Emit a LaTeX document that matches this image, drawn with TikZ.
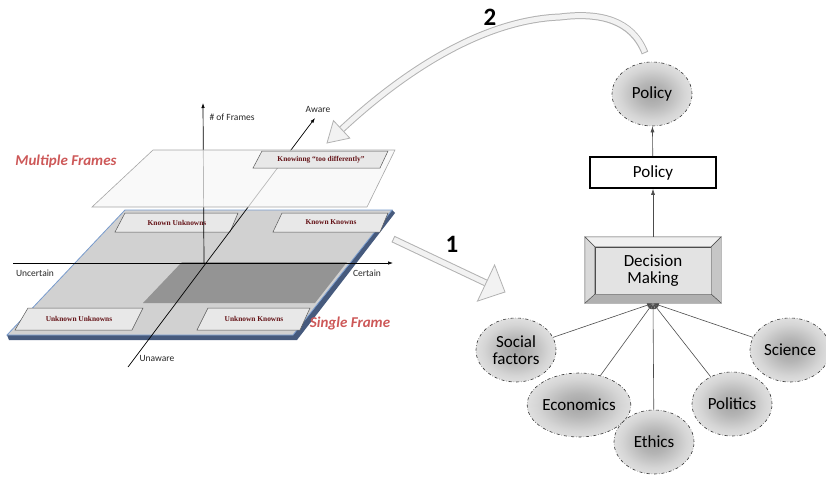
\documentclass[tikz,border=0pt]{standalone}
\usepackage{fontspec}
\setmainfont{Carlito}
\newfontfamily\boxserif{Liberation Serif}
\usetikzlibrary{arrows.meta, positioning, calc, shapes.geometric}

\definecolor{framered}{RGB}{205,88,88}
\definecolor{boxred}{RGB}{100,18,22}
\definecolor{slabblue}{RGB}{70,90,125}
\definecolor{edgeblue}{RGB}{120,155,205}
\pgfdeclareradialshading{ballgray}{\pgfpoint{0bp}{0bp}}{%
  color(0bp)=(gray!72); color(9bp)=(gray!58); color(20bp)=(gray!33);
  color(30bp)=(gray!17); color(36bp)=(gray!10); color(50bp)=(gray!10)}

\begin{document}
\begin{tikzpicture}[
    x=1pt, y=-1pt, >=Latex,
    axis/.style={->, >={Latex[length=5pt,width=3.5pt]}, line width=0.7pt},
    axlab/.style={font=\fontsize{9.5}{11}\selectfont, text=black!85},
    lbox/.style={fill=gray!18, draw=gray!70!black, line width=0.5pt},
    lbtxt/.style={font=\boxserif\bfseries\fontsize{7.4}{8}\selectfont, text=boxred},
    frametxt/.style={font=\bfseries\itshape\fontsize{15}{17}\selectfont, text=framered},
    factor/.style={ellipse, draw=gray!40!black, dash dot, line width=0.6pt,
      minimum width=80pt, minimum height=64pt, inner sep=0pt,
      shading=ballgray, align=center, font=\fontsize{17}{19}\selectfont},
    pbox/.style={draw, line width=1.6pt, fill=white, minimum width=126pt,
      minimum height=31pt, font=\fontsize{17}{19}\selectfont},
    dmbox/.style={draw=black!70, fill=gray!22, minimum width=116pt,
      minimum height=47pt, align=center, font=\fontsize{17}{19}\selectfont},
    feed/.style={-{Latex[length=6pt,width=4pt]}, draw=black!70, line width=0.6pt},
    shaftout/.style={line width=7pt, draw=gray!60},
    shaftin/.style={line width=5pt, draw=gray!10, shorten <=1pt},
    headst/.style={fill=gray!10, draw=gray!60, line width=0.8pt, line join=miter},
    num/.style={font=\bfseries\fontsize{25}{28}\selectfont}
  ]
    \useasboundingbox (0,0) rectangle (826,479);

    % single frame (lower plane)
    \fill[slabblue] (7,335) -- (293,335) -- (392,210) -- (395,213) -- (297,340) -- (9,340) -- cycle;
    \filldraw[fill=gray!36, draw=edgeblue, line width=0.8pt]
      (125,210) -- (392,210) -- (293,335) -- (7,335) -- cycle;
    \fill[black!42] (182,262) -- (347,262) -- (315,303) -- (143,303) -- cycle;

    \draw[lbox] (125,213) -- (238,213) -- (230,232) -- (115,232) -- cycle;
    \node[lbtxt] (ku) at (177,222.5) {Known Unknowns};
    \draw[lbox] (282,213) -- (388,213) -- (380,232) -- (273,232) -- cycle;
    \node[lbtxt] (kk) at (331,222.5) {Known Knowns};
    \draw[lbox] (28,308) -- (143,308) -- (132,330) -- (15,330) -- cycle;
    \node[lbtxt] (uu) at (79,319) {Unknown Unknowns};
    \draw[lbox] (208,308) -- (310,308) -- (300,330) -- (197,330) -- cycle;
    \node[lbtxt] (uk) at (254,319) {Unknown Knowns};

    % axes
    \coordinate (o) at (204,263);
    \coordinate (xl) at (13,263);
    \coordinate (xr) at (393,263);
    \coordinate (yt) at (203,103);
    \coordinate (zb) at (128,367);
    \coordinate (zt) at (315,118);
    \draw[axis] (xl) -- (xr);
    \draw[axis] (o) -- (yt);
    \draw[axis] (zb) -- (zt);

    % multiple frames (upper plane)
    \filldraw[fill=gray!6, fill opacity=0.75, draw=gray!70, line width=0.6pt]
      (153,150) -- (395,150) -- (367,207) -- (92,207) -- cycle;
    \draw[lbox] (262,151) -- (388,151) -- (380,168) -- (253,168) -- cycle;
    \node[lbtxt] (kd) at (321,159.5) {Knowinng “too differently”};

    \node[axlab, anchor=west] (nf) at (206,117) {\# of Frames};
    \node[axlab] (aw) at (318,109) {Aware};
    \node[axlab] (un) at (157,358) {Unaware};
    \node[axlab] (uc) at (35,273) {Uncertain};
    \node[axlab] (ce) at (367,273) {Certain};

    \node[frametxt] (mf) at (66,161) {Multiple Frames};
    \node[frametxt] (sf) at (350,323) {Single Frame};

    % decision side
    \node[factor] (pol2) at (652,94) {Policy};
    \node[pbox] (pol1) at (653,172.5) {Policy};
    \node[dmbox] (dm) at (653,270.5) {Decision\\[-2pt]Making};
    \coordinate (b1) at ($(dm.north west)+(-10,-10)$);
    \coordinate (b2) at ($(dm.north east)+(10,-10)$);
    \coordinate (b3) at ($(dm.south east)+(10,9)$);
    \coordinate (b4) at ($(dm.south west)+(-10,9)$);
    \filldraw[fill=gray!12, draw=black!70, line width=0.4pt] (b1) -- (b2) -- (dm.north east) -- (dm.north west) -- cycle;
    \filldraw[fill=gray!45, draw=black!70, line width=0.4pt] (b2) -- (b3) -- (dm.south east) -- (dm.north east) -- cycle;
    \filldraw[fill=gray!62, draw=black!70, line width=0.4pt] (b3) -- (b4) -- (dm.south west) -- (dm.south east) -- cycle;
    \filldraw[fill=gray!30, draw=black!70, line width=0.4pt] (b4) -- (b1) -- (dm.north west) -- (dm.south west) -- cycle;
    \coordinate (dmtop) at ($(dm.north)+(0,-10)$);
    \coordinate (dmin) at ($(dm.south)+(0,9)$);

    \node[factor] (soc) at (516,350) {Social\\[-2pt]factors};
    \node[factor] (eco) at (579,405) {Economics};
    \node[factor] (eth) at (654,442) {Ethics};
    \node[factor] (pol) at (732,404) {Politics};
    \node[factor] (sci) at (790,350) {Science};

    \draw[feed] (dmtop) -- (pol1);
    \draw[feed] (pol1) -- (pol2);
    \foreach \f in {soc,eco,eth,pol,sci}
      \draw[feed] (\f) -- (dmin);

    % arrow 1
    \coordinate (a1s) at (393,239);
    \coordinate (a1t) at (505,292);
    \coordinate (a1b) at ($(a1t)!21pt!(a1s)$);
    \draw[shaftout] (a1s) -- (a1b);
    \draw[shaftin] (a1s) -- (a1b);
    \draw[headst] ($(a1b)!20pt!90:(a1t)$) -- (a1t) -- ($(a1b)!20pt!-90:(a1t)$) -- cycle;
    \node[num] (n1) at (452,244) {1};

    % arrow 2
    \coordinate (a2s) at (645,53);
    \coordinate (a2m) at (560,17);
    \coordinate (a2t) at (327,143);
    \coordinate (a2b) at ($(a2t)!20pt!(400,75)$);
    \draw[shaftout] (a2s) .. controls (632,20) and (600,12) .. (a2m)
      .. controls (480,20) and (400,75) .. (a2b);
    \draw[shaftin] (a2s) .. controls (632,20) and (600,12) .. (a2m)
      .. controls (480,20) and (400,75) .. (a2b);
    \draw[headst] ($(a2b)!12pt!90:(a2t)$) -- (a2t) -- ($(a2b)!12pt!-90:(a2t)$) -- cycle;
    \node[num] (n2) at (490,17) {2};
\end{tikzpicture}
\end{document}
